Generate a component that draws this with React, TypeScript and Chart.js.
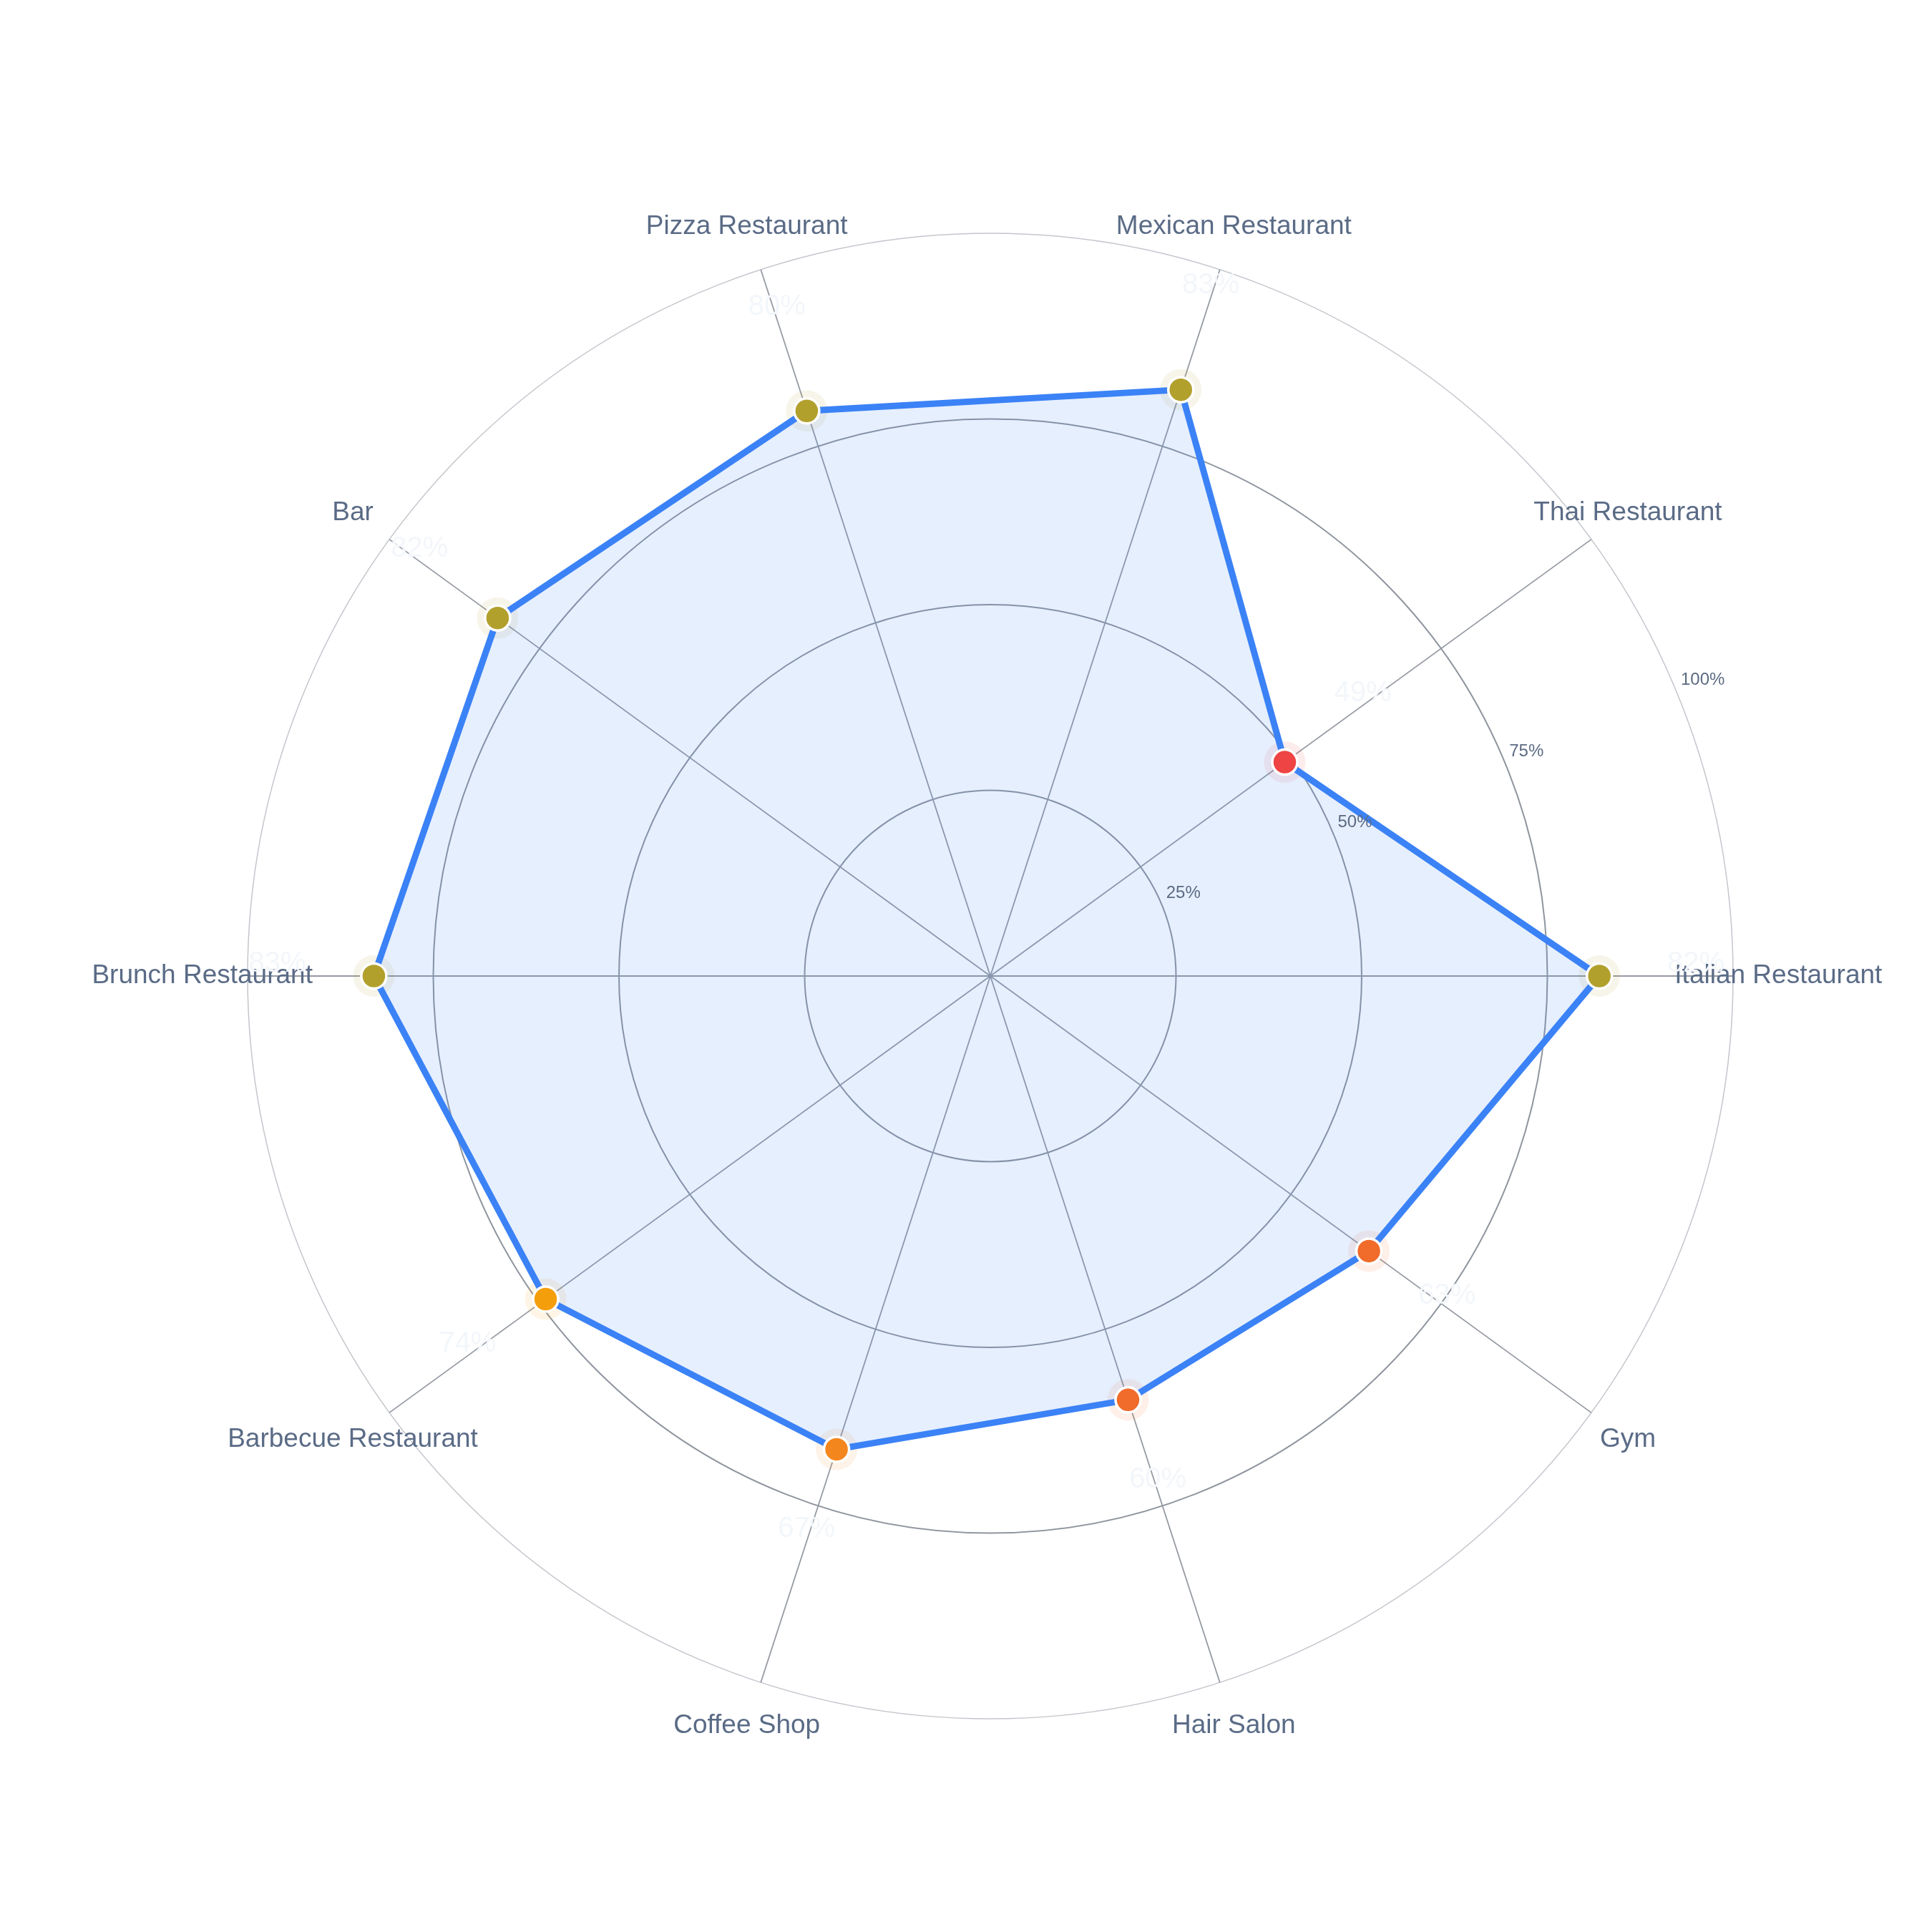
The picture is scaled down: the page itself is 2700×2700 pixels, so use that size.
import React, { useEffect, useRef } from "react";
import { Chart, registerables } from "chart.js";

Chart.register(...registerables);

// Categories in clockwise order starting from the right-hand axis
const categories: string[] = [
  "Italian Restaurant",
  "Gym",
  "Hair Salon",
  "Coffee Shop",
  "Barbecue Restaurant",
  "Brunch Restaurant",
  "Bar",
  "Pizza Restaurant",
  "Mexican Restaurant",
  "Thai Restaurant",
];

const values: number[] = [82, 63, 60, 67, 74, 83, 82, 80, 83, 49];

const tickValues: number[] = [25, 50, 75, 100];
const tickLabels: string[] = ["25%", "50%", "75%", "100%"];

const FONT = '"Liberation Sans", Arial, Helvetica, sans-serif';

function colorFor(v: number): string {
  if (v >= 78) return "#b2a02d";
  if (v >= 70) return "#f59e0b";
  if (v >= 65) return "#f4861e";
  if (v >= 55) return "#f16b2a";
  return "#ef4444";
}

function hexToRgba(hex: string, a: number): string {
  const n = parseInt(hex.slice(1), 16);
  return `rgba(${(n >> 16) & 255},${(n >> 8) & 255},${n & 255},${a})`;
}

const labelsPlugin = {
  id: "customLabels",
  afterDraw(chart: any) {
    const scale = chart.scales.r;
    const ctx = chart.ctx;
    ctx.save();
    // tick labels along a radial line at 22.5 degrees
    const ang = (22.5 * Math.PI) / 180;
    ctx.font = `24px ${FONT}`;
    ctx.fillStyle = "#5c6b82";
    ctx.textAlign = "left";
    ctx.textBaseline = "middle";
    tickValues.forEach((v, i) => {
      const r = scale.getDistanceFromCenterForValue(v);
      const x = scale.xCenter + r * Math.cos(ang) + 6;
      const y = scale.yCenter - r * Math.sin(ang) - 16;
      ctx.fillText(tickLabels[i], x, y);
    });
    // category labels
    ctx.font = `37px ${FONT}`;
    ctx.fillStyle = "#5a6b86";
    ctx.textAlign = "center";
    ctx.textBaseline = "middle";
    categories.forEach((c, i) => {
      const p = scale.getPointPosition(i, scale.drawingArea * 1.061);
      ctx.fillText(c, p.x, p.y);
    });
    // faint value labels
    ctx.font = `40px ${FONT}`;
    ctx.fillStyle = "#f3f6fa";
    values.forEach((v, i) => {
      const p = scale.getPointPosition(i, scale.getDistanceFromCenterForValue(v + 13));
      ctx.fillText(`${v}%`, p.x, p.y - 17);
    });
    ctx.restore();
  },
};

export default function App() {
  const ref = useRef<HTMLCanvasElement | null>(null);

  useEffect(() => {
    if (!ref.current) return;
    const pointColors = values.map(colorFor);
    const haloColors = pointColors.map((c) => hexToRgba(c, 0.1));
    const chart = new Chart(ref.current, {
      type: "radar",
      data: {
        labels: categories,
        datasets: [
          {
            label: "Score",
            data: values,
            borderColor: "#3b82f6",
            borderWidth: 9,
            backgroundColor: "rgba(59,130,246,0.13)",
            fill: true,
            pointRadius: 17.5,
            pointBorderWidth: 3.5,
            pointBorderColor: "#ffffff",
            pointBackgroundColor: pointColors,
            pointHoverRadius: 17.5,
          },
          {
            label: "halo",
            data: values,
            showLine: false,
            fill: false,
            borderWidth: 0,
            pointRadius: 29,
            pointBorderWidth: 0,
            pointBackgroundColor: haloColors,
            pointHoverRadius: 29,
          },
        ],
      },
      options: {
        animation: false,
        responsive: false,
        events: [],
        layout: { padding: { left: 346, right: 278, top: 326, bottom: 298 } },
        plugins: { legend: { display: false }, tooltip: { enabled: false } },
        scales: {
          r: {
            startAngle: 90,
            min: 0,
            max: 100,
            ticks: { display: false, stepSize: 25 },
            pointLabels: { display: false },
            grid: {
              circular: true,
              color: (c: any) => (c.tick && c.tick.value === 100 ? "#c3c6cc" : "#8f959e"),
              lineWidth: (c: any) => (c.tick && c.tick.value === 100 ? 1.5 : 2),
            },
            angleLines: { color: "#959aa2", lineWidth: 1.8 },
          },
        },
      },
      plugins: [labelsPlugin],
    });
    return () => chart.destroy();
  }, []);

  return (
    <div style={{ position: "absolute", left: 0, top: 0, width: 2700, height: 2700, background: "#ffffff" }}>
      <canvas ref={ref} width={2700} height={2700} style={{ width: 2700, height: 2700, display: "block" }} />
    </div>
  );
}
